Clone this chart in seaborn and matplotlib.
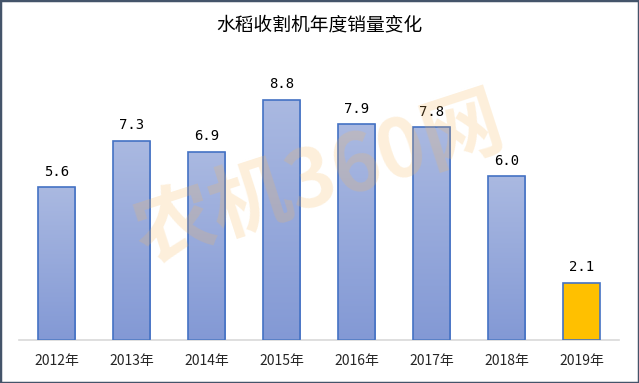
import numpy as np
import pandas as pd
import seaborn as sns
import matplotlib.pyplot as plt
from matplotlib.colors import LinearSegmentedColormap
from matplotlib.patches import Rectangle

# data
years = ['2012年', '2013年', '2014年', '2015年', '2016年', '2017年', '2018年', '2019年']
sales = [5.6, 7.3, 6.9, 8.8, 7.9, 7.8, 6.0, 2.1]
labels = ['5.6', '7.3', '6.9', '8.8', '7.9', '7.8', '6.0', '2.1']

df = pd.DataFrame({'year': years, 'sales': sales})

sns.set_style('white')
plt.rcParams['font.family'] = ['Noto Sans CJK SC', 'DejaVu Sans']

fig = plt.figure(figsize=(6.39, 3.83), dpi=100)
ax = fig.add_axes([19 / 639, 43 / 383, 600 / 639, 295 / 383])

# faint watermark behind the bars
fig.text(0.5, 0.53, '农机360网', fontsize=58, fontweight='bold', color='#F7B75A',
         alpha=0.22, rotation=18, ha='center', va='center', zorder=0)

sns.barplot(data=df, x='year', y='sales', width=0.5, ax=ax,
            color='#97A8DA', edgecolor='#4472C4', linewidth=1.2, zorder=3)

# gradient fill for bars, last one gold
grad = LinearSegmentedColormap.from_list('g', ['#8399D5', '#AAB9E1'])
ramp = np.linspace(0, 1, 256).reshape(-1, 1)
for i, p in enumerate(ax.patches):
    x0, w, h = p.get_x(), p.get_width(), p.get_height()
    if i == len(ax.patches) - 1:
        p.set_facecolor('#FFC000')
    else:
        p.set_facecolor('none')
        im = ax.imshow(ramp, cmap=grad, origin='lower', aspect='auto',
                       extent=[x0, x0 + w, 0, h], zorder=2)
        im.set_clip_path(Rectangle((x0, 0), w, h, transform=ax.transData))
    ax.text(x0 + w / 2, h + 0.3, labels[i], ha='center', va='bottom',
            fontsize=10, family=['DejaVu Sans Mono'], color='#000000')

ax.set_xlim(-0.5, len(years) - 0.5)
ax.set_ylim(0, 10.8)
ax.set_xlabel('')
ax.set_ylabel('')
ax.set_yticks([])
ax.tick_params(axis='x', length=0, labelsize=10, pad=10)
for s in ['top', 'right', 'left']:
    ax.spines[s].set_visible(False)
ax.spines['bottom'].set_color('#D9D9D9')
ax.spines['bottom'].set_linewidth(1.2)
ax.patch.set_alpha(0)

fig.text(0.5, 1 - 25 / 383, '水稻收割机年度销量变化', ha='center', va='center',
         fontsize=13.5, fontweight='medium', color='#000000')

# outer frame
fig.patches.append(Rectangle((0, 0), 1, 1, transform=fig.transFigure, fill=False,
                             edgecolor='#44546A', linewidth=2.5, zorder=10))

fig.savefig('out.png', dpi=100)
